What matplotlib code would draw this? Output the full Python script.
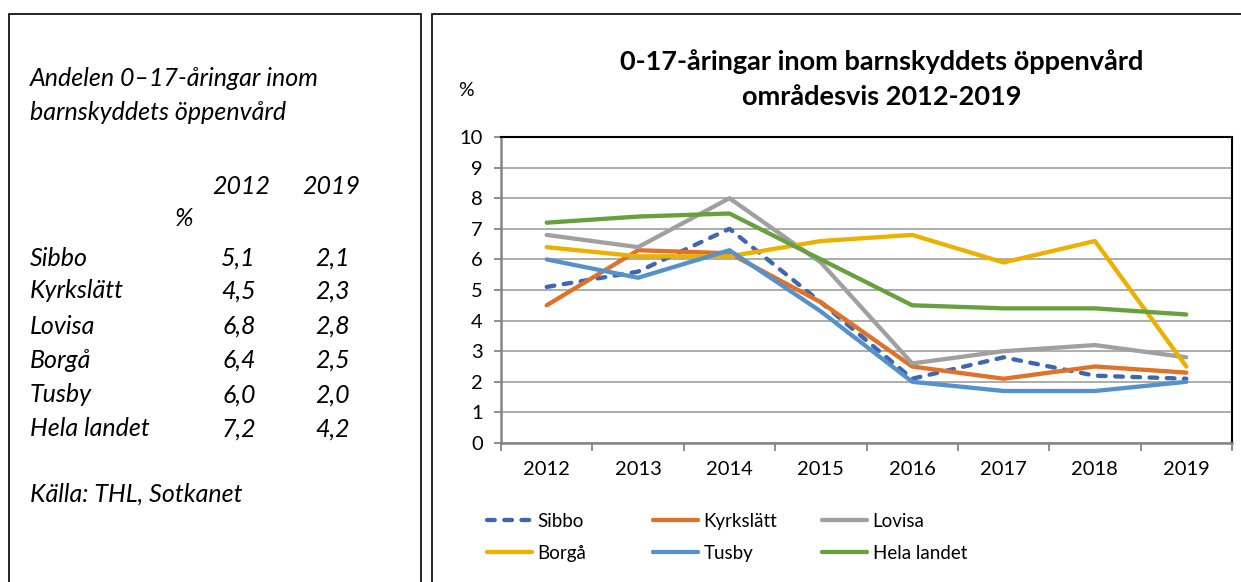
import matplotlib.pyplot as plt
import numpy as np
from matplotlib.patches import Rectangle
from matplotlib.lines import Line2D

plt.rcParams['font.family'] = ['Lato', 'DejaVu Sans']

years = ['2012', '2013', '2014', '2015', '2016', '2017', '2018', '2019']
regions = ['Sibbo', 'Kyrkslätt', 'Lovisa', 'Borgå', 'Tusby', 'Hela landet']

sibbo = [5.1, 5.6, 7.0, 4.6, 2.1, 2.8, 2.2, 2.1]
kyrkslatt = [4.5, 6.3, 6.2, 4.6, 2.5, 2.1, 2.5, 2.3]
lovisa = [6.8, 6.4, 8.0, 5.9, 2.6, 3.0, 3.2, 2.8]
borga = [6.4, 6.1, 6.1, 6.6, 6.8, 5.9, 6.6, 2.5]
tusby = [6.0, 5.4, 6.3, 4.3, 2.0, 1.7, 1.7, 2.0]
hela = [7.2, 7.4, 7.5, 6.0, 4.5, 4.4, 4.4, 4.2]

table_2012 = ['5,1', '4,5', '6,8', '6,4', '6,0', '7,2']
table_2019 = ['2,1', '2,3', '2,8', '2,5', '2,0', '4,2']

series = [sibbo, kyrkslatt, lovisa, borga, tusby, hela]
colors = ['#3F67B0', '#E07128', '#A0A0A0', '#EBB000', '#5592CB', '#67A03F']
styles = [(0, (1.8, 2.2)), '-', '-', '-', '-', '-']

W, H = 1241, 582
fig = plt.figure(figsize=(W / 100, H / 100), dpi=100)


def px(x, y):
    return x / W, 1 - y / H


# outer boxes
fig.patches.append(Rectangle(px(9, 600), 412 / W, 586 / H, transform=fig.transFigure,
                             fill=False, edgecolor='black', lw=1.2))
fig.patches.append(Rectangle(px(432, 600), 820 / W, 586 / H, transform=fig.transFigure,
                             fill=False, edgecolor='black', lw=1.2))

# left text panel
tkw = dict(fontsize=18, style='italic', color='black', va='center')
fig.text(*px(30, 78), 'Andelen 0–17-åringar inom', **tkw)
fig.text(*px(30, 113), 'barnskyddets öppenvård', **tkw)
fig.text(*px(270, 186), '2012', ha='right', **tkw)
fig.text(*px(360, 186), '2019', ha='right', **tkw)
fig.text(*px(193, 218), '%', ha='right', **tkw)
row_y = [258, 291, 326, 360, 395, 429]
for name, a, b, y in zip(regions, table_2012, table_2019, row_y):
    fig.text(*px(30, y), name, **tkw)
    fig.text(*px(256, y), a, ha='right', **tkw)
    fig.text(*px(350, y), b, ha='right', **tkw)
fig.text(*px(30, 494), 'Källa: THL, Sotkanet', **tkw)

# chart
ax = fig.add_axes([501 / W, 1 - 443 / H, 731 / W, 306 / H])
x = np.arange(len(years))
for vals, c, ls, name in zip(series, colors, styles, regions):
    ax.plot(x, vals, color=c, lw=3.1, ls=ls, label=name, solid_capstyle='round',
            dash_capstyle='round', zorder=3)

ax.set_xlim(-0.5, len(years) - 0.5)
ax.set_ylim(0, 10)
ax.set_yticks(range(0, 11))
ax.yaxis.grid(True, color='#A6A6A6', lw=1.3, zorder=0)
ax.set_xticks(x)
ax.set_xticklabels(years)
ax.set_xticks(np.arange(-0.5, len(years)), minor=True)
ax.tick_params(axis='x', which='major', length=0, labelsize=14.5, pad=13)
ax.tick_params(axis='x', which='minor', length=6, width=1.3, color='#868686')
ax.tick_params(axis='y', length=5, width=1.3, color='#868686', labelsize=14.5, pad=8)
for s in ['top', 'right']:
    ax.spines[s].set_color('black')
    ax.spines[s].set_linewidth(1.5)
for s in ['left', 'bottom']:
    ax.spines[s].set_color('#868686')
    ax.spines[s].set_linewidth(1.8)

fig.text(*px(882, 62), '0-17-åringar inom barnskyddets öppenvård', ha='center',
         va='center', fontsize=19.5, fontweight='bold')
fig.text(*px(882, 97), 'områdesvis 2012-2019', ha='center', va='center',
         fontsize=19.5, fontweight='bold')
fig.text(*px(466, 90), '%', ha='center', va='center', fontsize=14)

# legend: three columns, two rows (row-wise order)
handles = [Line2D([0], [0], color=c, lw=3.1, ls=ls, solid_capstyle='round',
                  dash_capstyle='round') for c, ls in zip(colors, styles)]
col_x = [487, 653, 822]
for i, cx in enumerate(col_x):
    idx = [i, i + 3]
    leg = fig.legend([handles[j] for j in idx], [regions[j] for j in idx],
                     loc='center left', bbox_to_anchor=px(cx, 537.5),
                     frameon=False, fontsize=13.5, handlelength=2.4,
                     handletextpad=0.3, labelspacing=0.8, borderpad=0,
                     borderaxespad=0)

fig.savefig('out.png', dpi=100)
